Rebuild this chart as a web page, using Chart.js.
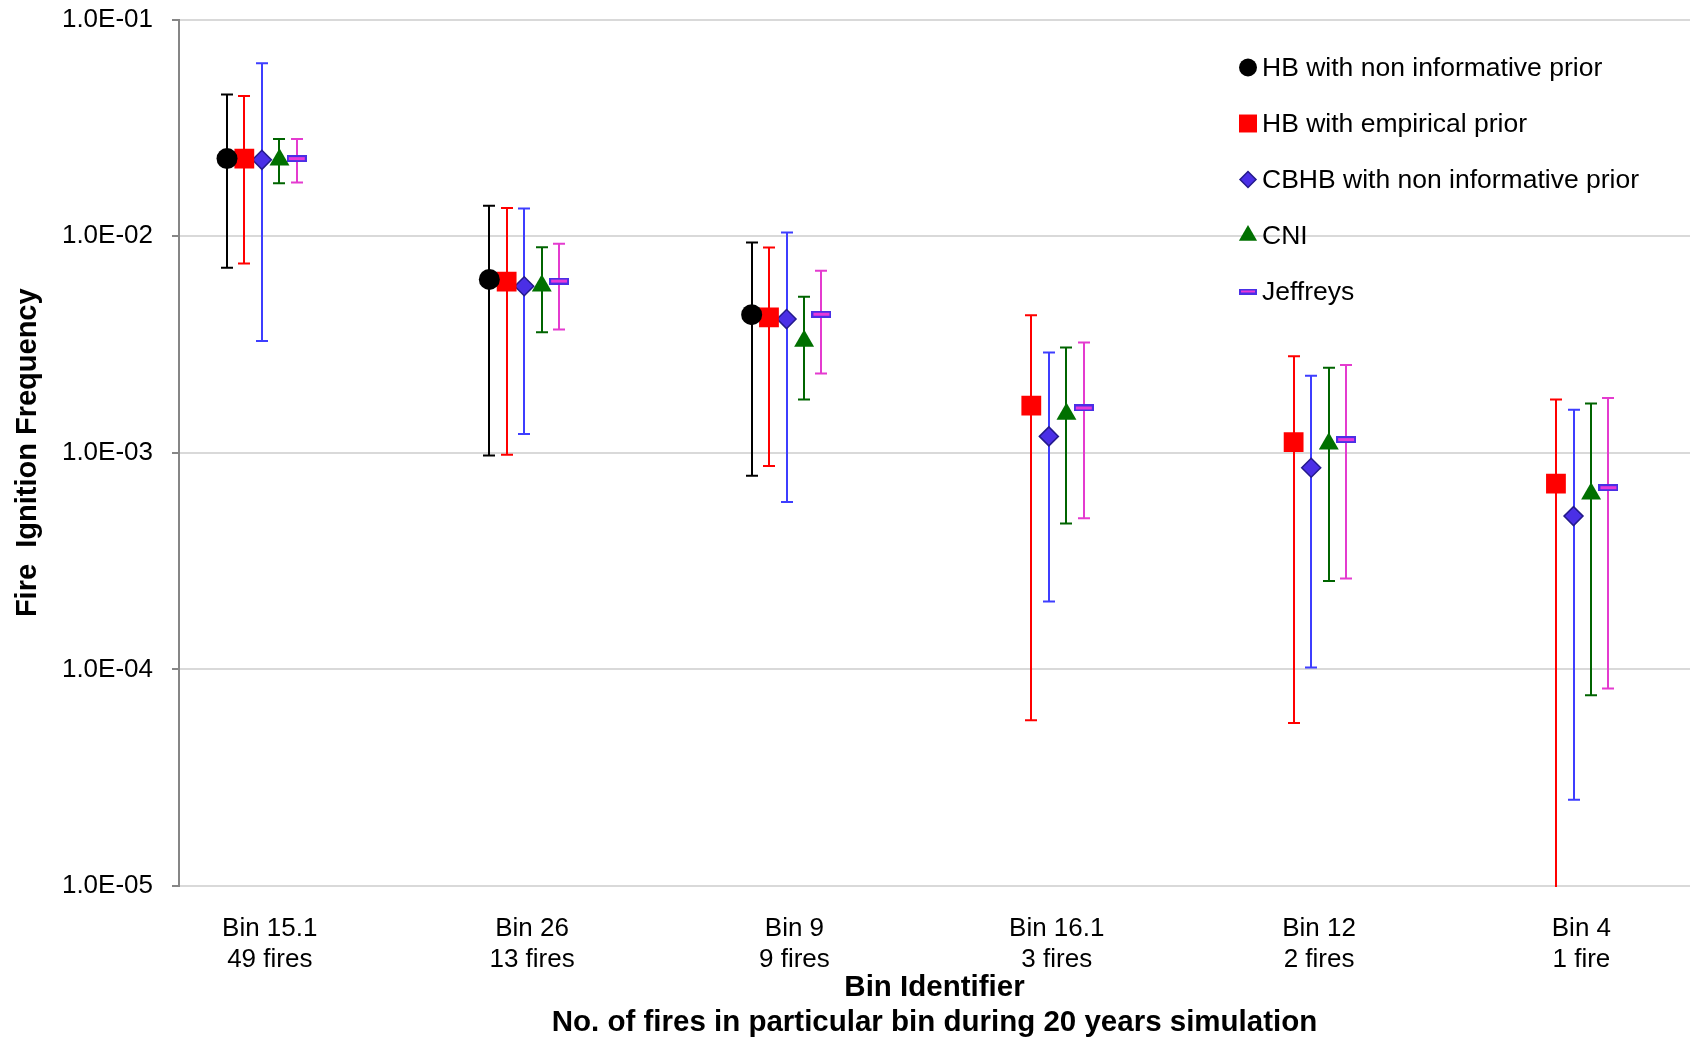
<!DOCTYPE html>
<html lang="en">
<head>
<meta charset="UTF-8">
<title>Fire Ignition Frequency by Bin</title>
<script src="https://cdn.jsdelivr.net/npm/chart.js"></script>
<style>
  html, body { margin: 0; padding: 0; background: #fff; overflow: hidden; }
  #wrap { width: 1692px; height: 1037px; }
  #chart { display: block; }
</style>
</head>
<body>
<div id="wrap"><canvas id="chart" width="1692" height="1037"></canvas></div>
<script>
// x axis categories
const binNames = ['Bin 15.1', 'Bin 26', 'Bin 9', 'Bin 16.1', 'Bin 12', 'Bin 4'];
const fireCounts = ['49 fires', '13 fires', '9 fires', '3 fires', '2 fires', '1 fire'];

// y axis ticks (log scale)
const yTickValues = [1e-5, 1e-4, 1e-3, 1e-2, 1e-1];
const yTickLabels = ['1.0E-05', '1.0E-04', '1.0E-03', '1.0E-02', '1.0E-01'];

// HB with non informative prior
const hbNonInfMean = [0.0228, 0.00631, 0.00434, null, null, null];
const hbNonInfLow  = [0.00715, 0.00097, 0.000783, null, null, null];
const hbNonInfHigh = [0.0451, 0.0138, 0.00935, null, null, null];

// HB with empirical prior
const hbEmpMean = [0.0228, 0.00616, 0.00422, 0.00165, 0.00112, 0.00072];
const hbEmpLow  = [0.00747, 0.00098, 0.000869, 0.0000583, 0.0000566, 0.000009];
const hbEmpHigh = [0.0444, 0.0135, 0.00887, 0.00431, 0.00279, 0.00176];

// CBHB with non informative prior
const cbhbMean = [0.0225, 0.00587, 0.00414, 0.00119, 0.000853, 0.00051];
const cbhbLow  = [0.00328, 0.00122, 0.000592, 0.000206, 0.000102, 0.000025];
const cbhbHigh = [0.0628, 0.0134, 0.0104, 0.0029, 0.00227, 0.00158];

// CNI
const cniMean = [0.0225, 0.0059, 0.00328, 0.00151, 0.0011, 0.000647];
const cniLow  = [0.01756, 0.0036, 0.00176, 0.000471, 0.000256, 0.0000759];
const cniHigh = [0.0281, 0.00889, 0.00525, 0.00306, 0.00247, 0.00169];

// Jeffreys
const jeffMean = [0.0228, 0.0062, 0.00436, 0.00161, 0.00115, 0.00069];
const jeffLow  = [0.0177, 0.00371, 0.00232, 0.000498, 0.000263, 0.0000815];
const jeffHigh = [0.0281, 0.00923, 0.00692, 0.00323, 0.00254, 0.00179];

// side-by-side spacing of the five methods inside one bin
const groupOffset = [-0.133, -0.067, 0, 0.067, 0.133];
const labelShift = 0.03;

const FONT = "'Liberation Sans', Arial, sans-serif";
Chart.defaults.font.family = FONT;
Chart.defaults.color = '#000';

function points(mean, low, high, k) {
    return mean.map((v, i) => ({ x: i + groupOffset[k], y: v, yMin: low[i], yMax: high[i] }));
}

// little bordered dash used for the Jeffreys marker
function makeDash(w, h) {
    const c = document.createElement('canvas');
    c.width = w; c.height = h;
    const g = c.getContext('2d');
    g.fillStyle = '#4a2fe6';
    g.fillRect(0, 0, w, h);
    g.fillStyle = '#e83ad8';
    g.fillRect(2, 2, w - 4, h - 4);
    return c;
}

const errorBars = {
    id: 'errorBars',
    beforeDatasetsDraw(chart) {
        const { ctx, chartArea, scales: { x, y } } = chart;
        ctx.save();
        ctx.beginPath();
        ctx.rect(chartArea.left, chartArea.top, chartArea.right - chartArea.left, chartArea.bottom - chartArea.top + 1);
        ctx.clip();
        chart.data.datasets.forEach(ds => {
            ctx.strokeStyle = ds.barColor;
            ctx.lineWidth = 2;
            ds.data.forEach(p => {
                if (p.y == null) return;
                const px = Math.round(x.getPixelForValue(p.x));
                const top = y.getPixelForValue(p.yMax);
                const bot = y.getPixelForValue(p.yMin);
                ctx.beginPath();
                ctx.moveTo(px, top); ctx.lineTo(px, bot);
                ctx.moveTo(px - 6, top); ctx.lineTo(px + 6, top);
                ctx.moveTo(px - 6, bot); ctx.lineTo(px + 6, bot);
                ctx.stroke();
            });
        });
        ctx.restore();
    }
};

const legendBox = {
    id: 'legendBox',
    afterDraw(chart) {
        const ctx = chart.ctx;
        ctx.save();
        chart.data.datasets.forEach((ds, i) => {
            const y = 67.5 + i * 56;
            ctx.fillStyle = ds.backgroundColor;
            ctx.strokeStyle = ds.borderColor;
            ctx.lineWidth = ds.borderWidth;
            Chart.helpers.drawPoint(ctx, {
                pointStyle: ds.legendStyle || ds.pointStyle,
                radius: ds.legendRadius,
                borderWidth: ds.borderWidth,
                rotation: 0
            }, 1248, y);
            ctx.fillStyle = '#000';
            ctx.font = '26.5px ' + FONT;
            ctx.textAlign = 'left';
            ctx.textBaseline = 'middle';
            ctx.fillText(ds.label, 1262, y + 1);
        });
        ctx.restore();
    }
};

new Chart(document.getElementById('chart'), {
    type: 'scatter',
    data: {
        datasets: [
            {
                label: 'HB with non informative prior',
                data: points(hbNonInfMean, hbNonInfLow, hbNonInfHigh, 0),
                pointStyle: 'circle', pointRadius: 10.5, legendRadius: 9,
                backgroundColor: '#000', borderColor: '#000', borderWidth: 0,
                barColor: '#000'
            },
            {
                label: 'HB with empirical prior',
                data: points(hbEmpMean, hbEmpLow, hbEmpHigh, 1),
                pointStyle: 'rect', pointRadius: 14, legendRadius: 12.7,
                backgroundColor: '#ff0000', borderColor: '#ff0000', borderWidth: 0,
                barColor: '#ff0000'
            },
            {
                label: 'CBHB with non informative prior',
                data: points(cbhbMean, cbhbLow, cbhbHigh, 2),
                pointStyle: 'rectRot', pointRadius: 9.5, legendRadius: 8,
                backgroundColor: '#4a2fe6', borderColor: '#241a8c', borderWidth: 1.5,
                barColor: '#3e3eff'
            },
            {
                label: 'CNI',
                data: points(cniMean, cniLow, cniHigh, 3),
                pointStyle: 'triangle', pointRadius: 11.5, legendRadius: 10.5,
                backgroundColor: '#007000', borderColor: '#007000', borderWidth: 0,
                barColor: '#006400'
            },
            {
                label: 'Jeffreys',
                data: points(jeffMean, jeffLow, jeffHigh, 4),
                pointStyle: makeDash(20, 7), legendStyle: makeDash(18, 6),
                pointRadius: 10, legendRadius: 9,
                backgroundColor: '#e83ad8', borderColor: '#4a2fe6', borderWidth: 0,
                barColor: '#e43bcf'
            }
        ]
    },
    options: {
        responsive: false,
        animation: false,
        layout: { autoPadding: false, padding: { top: 19.5, right: 2, left: 0, bottom: 0 } },
        plugins: {
            legend: { display: false },
            tooltip: { enabled: false }
        },
        scales: {
            x: {
                type: 'linear',
                min: -0.316,
                max: 5.444,
                grid: { display: false },
                border: { display: false },
                afterBuildTicks: axis => {
                    axis.ticks = binNames.map((n, i) => ({ value: i + labelShift }));
                },
                afterFit: axis => {
                    axis.height = 151;
                    axis.paddingLeft = 0;
                    axis.paddingRight = 0;
                },
                ticks: {
                    autoSkip: false,
                    maxRotation: 0,
                    padding: 19,
                    font: { size: 26, lineHeight: 31 / 26 },
                    callback: (v, i) => [binNames[i], fireCounts[i]]
                },
                title: {
                    display: true,
                    text: ['Bin Identifier', 'No. of fires in particular bin during 20 years simulation'],
                    font: { size: 29.5, weight: 'bold', lineHeight: 35 / 29.5 },
                    padding: { top: 0, bottom: -3.5 }
                }
            },
            y: {
                type: 'logarithmic',
                min: 1e-5,
                max: 1e-1,
                afterBuildTicks: axis => {
                    axis.ticks = yTickValues.map(v => ({ value: v, major: true }));
                },
                afterFit: axis => {
                    axis.width = 179;
                    axis.paddingTop = 0;
                    axis.paddingBottom = 0;
                },
                grid: {
                    color: '#d9d9d9',
                    lineWidth: 2,
                    drawTicks: true,
                    tickLength: 7,
                    tickColor: '#868686',
                    tickWidth: 2
                },
                border: { display: true, color: '#868686', width: 2 },
                ticks: {
                    padding: 19,
                    font: { size: 26 },
                    callback: (v, i) => yTickLabels[i]
                },
                title: {
                    display: true,
                    text: 'Fire  Ignition Frequency',
                    font: { size: 29, weight: 'bold' },
                    padding: { top: 11, bottom: 0 }
                }
            }
        }
    },
    plugins: [errorBars, legendBox]
});
</script>
</body>
</html>
